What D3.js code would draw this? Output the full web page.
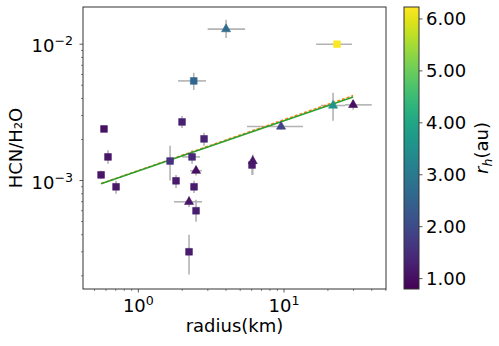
<!DOCTYPE html>
<html>
<head>
<meta charset="utf-8">
<script src="https://cdn.jsdelivr.net/npm/d3@7"></script>
<style>
  body { margin: 0; background: #fff; }
  svg { display: block; font-family: "DejaVu Sans", sans-serif; }
</style>
</head>
<body>
<svg id="chart" width="499" height="346"></svg>
<script>
// comet data
const radius = [0.581, 0.619, 0.555, 0.703, 1.651, 1.995, 2.825, 2.337, 2.489, 1.814, 2.411, 2.228, 2.489, 2.228, 2.40, 4.0, 23.1, 9.54, 21.7, 29.8, 6.03, 6.1];
const ratio = [2.39e-3, 1.49e-3, 1.10e-3, 8.99e-4, 1.39e-3, 2.69e-3, 2.02e-3, 1.49e-3, 1.18e-3, 9.95e-4, 8.99e-4, 6.98e-4, 6.0e-4, 3.0e-4, 5.38e-3, 1.29e-2, 1.0e-2, 2.49e-3, 3.55e-3, 3.59e-3, 1.30e-3, 1.39e-3];
const rh = [1.05, 1.1, 1.1, 1.15, 1.6, 1.3, 1.35, 1.4, 1.0, 1.2, 1.2, 1.1, 1.25, 1.2, 2.6, 2.7, 6.2, 1.9, 3.6, 1.0, 1.2, 1.1];
const shape = ['s', 's', 's', 's', 's', 's', 's', 's', 't', 's', 's', 't', 's', 's', 's', 't', 's', 't', 't', 't', 's', 't'];
const xLo = [0.581, 0.619, 0.53, 0.67, 1.55, 1.995, 2.825, 1.995, 2.27, 1.814, 2.411, 1.758, 2.489, 2.228, 1.873, 2.99, 16.6, 5.57, 17.9, 26.2, 6.03, 6.1];
const xHi = [0.581, 0.619, 0.58, 0.74, 1.76, 1.995, 2.825, 2.652, 2.73, 1.814, 2.411, 2.736, 2.489, 2.228, 2.915, 5.40, 29.3, 13.5, 26.2, 40.0, 6.03, 6.1];
const yLo = [2.39e-3, 1.33e-3, 1.03e-3, 8.0e-4, 1.0e-3, 2.43e-3, 1.80e-3, 1.33e-3, 1.09e-3, 8.8e-4, 8.1e-4, 6.4e-4, 4.98e-4, 2.04e-4, 4.62e-3, 1.11e-2, 1.0e-2, 2.37e-3, 2.75e-3, 3.3e-3, 1.10e-3, 1.10e-3];
const yHi = [2.39e-3, 1.67e-3, 1.18e-3, 9.95e-4, 1.80e-3, 2.98e-3, 2.24e-3, 1.67e-3, 1.28e-3, 1.10e-3, 9.95e-4, 7.6e-4, 7.22e-4, 4.0e-4, 6.17e-3, 1.51e-2, 1.0e-2, 2.62e-3, 4.40e-3, 3.9e-3, 1.39e-3, 1.55e-3];

// fitted power laws (two overlapping fits)
const fitX = [0.555, 29.8];
const fitOrange = [9.5e-4, 4.2e-3];
const fitGreen = [9.45e-4, 4.1e-3];

const xTicks = [1, 10];
const yTicks = [1e-3, 1e-2];
const cbTicks = [1, 2, 3, 4, 5, 6];

const svg = d3.select('#chart');
const margin = { top: 7, left: 83, right: 386, bottom: 289 };

const x = d3.scaleLog().domain([0.417, 50.1]).range([margin.left, margin.right]);
const y = d3.scaleLog().domain([1.6e-4, 0.01875]).range([margin.bottom, margin.top]);
const color = d3.scaleSequential(d3.interpolateViridis).domain([0.80, 6.23]);

const plot = svg.append('g');

// error bars
const eb = plot.append('g').attr('stroke', '#b3b3b3').attr('stroke-width', 1.6);
radius.forEach((r, i) => {
  if (xHi[i] > xLo[i]) {
    eb.append('line').attr('x1', x(xLo[i])).attr('x2', x(xHi[i]))
      .attr('y1', y(ratio[i])).attr('y2', y(ratio[i]));
  }
  if (yHi[i] > yLo[i]) {
    eb.append('line').attr('x1', x(r)).attr('x2', x(r))
      .attr('y1', y(yLo[i])).attr('y2', y(yHi[i]));
  }
});

// fit lines
const line = d3.line().x(d => x(d[0])).y(d => y(d[1]));
plot.append('path').datum(fitX.map((v, i) => [v, fitOrange[i]]))
  .attr('d', line).attr('fill', 'none').attr('stroke', '#ff7f0e')
  .attr('stroke-width', 1.5).attr('stroke-dasharray', '3,2');
plot.append('path').datum(fitX.map((v, i) => [v, fitGreen[i]]))
  .attr('d', line).attr('fill', 'none').attr('stroke', '#2ca02c')
  .attr('stroke-width', 1.6);

// markers
const sq = d3.symbol().type(d3.symbolSquare).size(46);
const tri = d3.symbol().type(d3.symbolTriangle).size(36);
radius.forEach((r, i) => {
  plot.append('path')
    .attr('d', shape[i] === 's' ? sq() : tri())
    .attr('transform', `translate(${x(r)},${y(ratio[i])})`)
    .attr('fill', color(rh[i]))
    .attr('stroke', color(rh[i]))
    .attr('stroke-opacity', 0.55)
    .attr('stroke-width', 1);
});

// axes frame
svg.append('rect')
  .attr('x', margin.left).attr('y', margin.top)
  .attr('width', margin.right - margin.left).attr('height', margin.bottom - margin.top)
  .attr('fill', 'none').attr('stroke', '#333').attr('stroke-width', 1);

// x ticks
const xMinor = [];
[0.1, 1, 10].forEach(b => { for (let k = 2; k <= 9; k++) xMinor.push(b * k); });
xMinor.filter(v => v > 0.417 && v < 50.1).forEach(v => {
  svg.append('line').attr('x1', x(v)).attr('x2', x(v))
    .attr('y1', margin.bottom).attr('y2', margin.bottom + 2).attr('stroke', '#333').attr('stroke-width', 0.6);
});
xTicks.forEach(v => {
  svg.append('line').attr('x1', x(v)).attr('x2', x(v))
    .attr('y1', margin.bottom).attr('y2', margin.bottom + 3.5).attr('stroke', '#333').attr('stroke-width', 0.8);
  const t = svg.append('text').attr('x', x(v)).attr('y', 312)
    .attr('text-anchor', 'middle').attr('font-size', 18);
  t.append('tspan').text('10');
  t.append('tspan').attr('dy', -7).attr('font-size', 12.6).text(Math.round(Math.log10(v)));
});

// y ticks
const yMinor = [];
[1e-4, 1e-3, 1e-2].forEach(b => { for (let k = 2; k <= 9; k++) yMinor.push(b * k); });
yMinor.filter(v => v > 1.6e-4 && v < 0.01875).forEach(v => {
  svg.append('line').attr('x1', margin.left - 2).attr('x2', margin.left)
    .attr('y1', y(v)).attr('y2', y(v)).attr('stroke', '#333').attr('stroke-width', 0.6);
});
yTicks.forEach(v => {
  svg.append('line').attr('x1', margin.left - 3.5).attr('x2', margin.left)
    .attr('y1', y(v)).attr('y2', y(v)).attr('stroke', '#333').attr('stroke-width', 0.8);
  const t = svg.append('text').attr('x', 73).attr('y', y(v) + 8)
    .attr('text-anchor', 'end').attr('font-size', 18);
  t.append('tspan').text('10');
  t.append('tspan').attr('dy', -7).attr('font-size', 12.6).text('\u2212' + Math.abs(Math.round(Math.log10(v))));
});

// axis labels
svg.append('text').attr('x', (margin.left + margin.right) / 2).attr('y', 332)
  .attr('text-anchor', 'middle').attr('font-size', 18).text('radius(km)');
svg.append('text').attr('transform', `translate(22,${(margin.top + margin.bottom) / 2}) rotate(-90)`)
  .attr('text-anchor', 'middle').attr('font-size', 18).text('HCN/H\u2082O');

// colorbar
const cb = { x: 404, w: 15 };
const cbY = d3.scaleLinear().domain([0.80, 6.23]).range([margin.bottom, margin.top]);
const defs = svg.append('defs');
const grad = defs.append('linearGradient').attr('id', 'viridis')
  .attr('x1', '0%').attr('x2', '0%').attr('y1', '100%').attr('y2', '0%');
d3.range(0, 1.0001, 0.05).forEach(t => {
  grad.append('stop').attr('offset', (t * 100) + '%').attr('stop-color', d3.interpolateViridis(t));
});
svg.append('rect').attr('x', cb.x).attr('y', margin.top).attr('width', cb.w)
  .attr('height', margin.bottom - margin.top).attr('fill', 'url(#viridis)')
  .attr('stroke', '#333').attr('stroke-width', 1);
cbTicks.forEach(v => {
  svg.append('line').attr('x1', cb.x + cb.w).attr('x2', cb.x + cb.w + 3.5)
    .attr('y1', cbY(v)).attr('y2', cbY(v)).attr('stroke', '#333').attr('stroke-width', 0.8);
  svg.append('text').attr('x', 426).attr('y', cbY(v) + 6.5).attr('font-size', 18)
    .text(d3.format('.2f')(v));
});
const cbl = svg.append('text').attr('transform', `translate(488,148) rotate(-90)`)
  .attr('text-anchor', 'middle').attr('font-size', 18);
cbl.append('tspan').attr('font-style', 'italic').text('r');
cbl.append('tspan').attr('font-size', 12.6).attr('font-style', 'italic').attr('dy', 4).text('h');
cbl.append('tspan').attr('dy', -4).text('(au)');
</script>
</body>
</html>
